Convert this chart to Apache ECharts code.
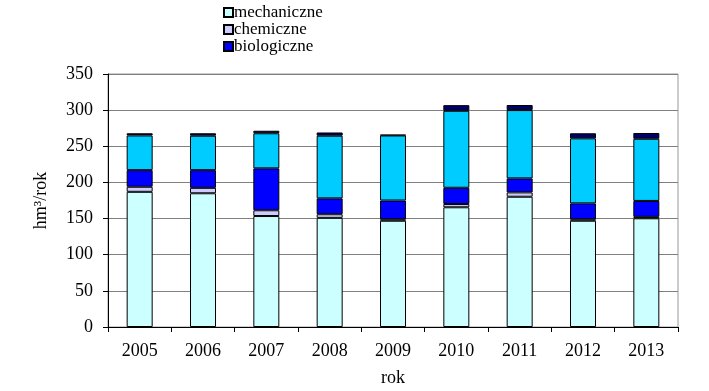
<!DOCTYPE html>
<html>
<head>
<meta charset="utf-8">
<script src="https://cdn.jsdelivr.net/npm/echarts@6/dist/echarts.min.js"></script>
<style>html,body{margin:0;padding:0;background:#fff;}#c{width:709px;height:391px;}</style>
</head>
<body>
<div id="c"></div>
<script>
const years = ['2005','2006','2007','2008','2009','2010','2011','2012','2013'];
const mechaniczne = [187, 185, 153.5, 151, 147, 165.6, 180.2, 147, 150.4];
const chemiczne = [7, 7.5, 8, 5, 2, 4.5, 6, 2, 2];
const biologiczne = [23, 24.5, 58, 22, 26, 22.5, 19.4, 22, 22];
const inne = [48, 47.6, 48.5, 86.6, 90, 106.5, 94.5, 90, 86];
const pozostale = [3, 3.4, 3.5, 4.5, 1, 7.8, 7, 7, 8];
const yTicks = [0, 50, 100, 150, 200, 250, 300, 350];

const FONT = "'Liberation Serif','Times New Roman',serif";
const chart = echarts.init(document.getElementById('c'), null, {renderer: 'canvas'});
function s(name, data, color) {
  return {
    name: name, type: 'bar', stack: 'a', data: data, barWidth: 26,
    itemStyle: {color: color, borderColor: '#000', borderWidth: 1},
    emphasis: {disabled: true}
  };
}
chart.setOption({
  animation: false,
  textStyle: {fontFamily: FONT},
  legend: {
    orient: 'vertical', left: 218, top: -1,
    data: ['mechaniczne', 'chemiczne', 'biologiczne'],
    icon: 'rect', itemWidth: 9, itemHeight: 9, itemGap: 0,
    textStyle: {fontFamily: FONT, fontSize: 17, color: '#000', padding: [0, 0, 0, -4], lineHeight: 14}
  },
  grid: {left: 108, right: 31, top: 74, bottom: 64, show: true, borderColor: '#999', borderWidth: 1,
    outerBoundsMode: 'none', containLabel: false},
  xAxis: {
    type: 'category', data: years,
    name: 'rok', nameLocation: 'middle', nameGap: 42,
    nameTextStyle: {fontFamily: FONT, fontSize: 18, color: '#000'},
    axisLine: {lineStyle: {color: '#000', width: 1}},
    axisTick: {show: true, alignWithLabel: false, length: 5, lineStyle: {color: '#000'}},
    axisLabel: {fontFamily: FONT, fontSize: 18, color: '#000', margin: 15}
  },
  yAxis: {
    type: 'value', min: 0, max: 350, interval: 50,
    name: 'hm³/rok', nameLocation: 'middle', nameGap: 58, nameRotate: 90,
    nameTextStyle: {fontFamily: FONT, fontSize: 18, color: '#000'},
    axisLine: {show: true, lineStyle: {color: '#000', width: 1}},
    axisTick: {show: true, length: 5, lineStyle: {color: '#000'}},
    axisLabel: {fontFamily: FONT, fontSize: 18, color: '#000', margin: 15,
      formatter: v => yTicks.includes(v) ? String(v) : ''},
    splitLine: {show: true, lineStyle: {color: '#808080', width: 1}}
  },
  series: [
    s('mechaniczne', mechaniczne, '#CCFFFF'),
    s('chemiczne', chemiczne, '#CCCCFF'),
    s('biologiczne', biologiczne, '#0000FF'),
    s('inne', inne, '#00CCFF'),
    s('pozostałe', pozostale, '#000066')
  ]
});
</script>
</body>
</html>
